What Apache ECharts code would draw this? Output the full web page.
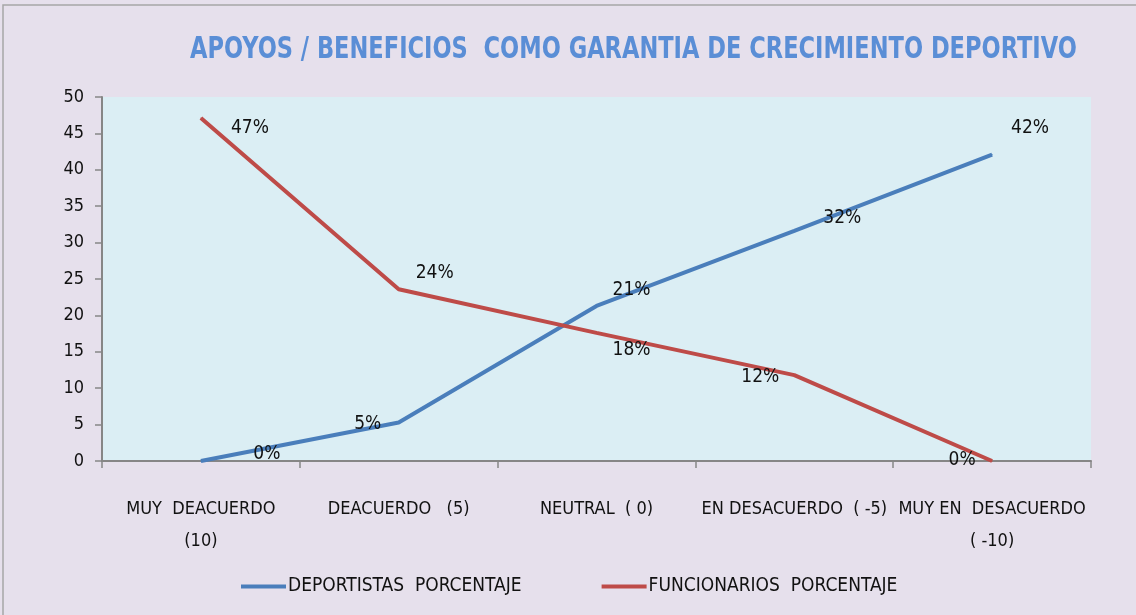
<!DOCTYPE html>
<html>
<head>
<meta charset="utf-8">
<script src="https://cdn.jsdelivr.net/npm/echarts@6/dist/echarts.min.js"></script>
<style>
  html, body { margin: 0; padding: 0; background: #e6e0ec; }
  #main { width: 1136px; height: 615px; }
</style>
</head>
<body>
<div id="main"></div>
<script>
// datos
var categorias = [
  "MUY  DEACUERDO\n(10)",
  "DEACUERDO   (5)",
  "NEUTRAL  ( 0)",
  "EN DESACUERDO  ( -5)",
  "MUY EN  DESACUERDO\n( -10)"
];
var deportistas = [0, 5.3, 21.3, 31.6, 42.1];
var funcionarios = [47.1, 23.6, 17.6, 11.8, 0];
var yTicks = [0, 50, 5]; // min, max, intervalo

// posiciones de etiquetas (estilo, no datos)
var offsetsAzul = [[66, -7], [-31, 2], [35, -16], [48, -13], [38, -26]];
var offsetsRojo = [[49, 10], [36, -16], [35, 17], [-34, 2], [-30, -1]];

var fuente = "'Liberation Sans Narrow', 'DejaVu Sans Condensed', sans-serif";

function conEtiquetas(valores, offsets) {
  return valores.map(function (v, i) {
    return {
      value: v,
      label: { offset: offsets[i] }
    };
  });
}

function pct(p) { return Math.round(p.value) + "%"; }

var myChart = echarts.init(document.getElementById("main"));
myChart.setOption({
  backgroundColor: "#e6e0ec",
  animation: false,
  textStyle: { fontFamily: fuente },
  legend: {
    bottom: 14,
    left: 236,
    itemWidth: 45,
    itemHeight: 4,
    itemGap: 80,
    icon: "rect",
    textStyle: { fontSize: 19, color: "#111", fontFamily: fuente, padding: [0, 0, 0, -3] },
    data: ["DEPORTISTAS  PORCENTAJE", "FUNCIONARIOS  PORCENTAJE"]
  },
  grid: {
    left: 102,
    right: 45,
    top: 97,
    bottom: 154,
    show: true,
    backgroundColor: "#dbeef4",
    borderWidth: 0
  },
  xAxis: {
    type: "category",
    boundaryGap: true,
    data: categorias,
    axisLine: { lineStyle: { color: "#868686", width: 2 } },
    axisTick: { show: true, length: 7, lineStyle: { color: "#868686", width: 1.5 } },
    axisLabel: {
      color: "#111",
      fontSize: 18,
      lineHeight: 32,
      margin: 32,
      interval: 0,
      fontFamily: fuente
    }
  },
  yAxis: {
    type: "value",
    min: yTicks[0],
    max: yTicks[1],
    interval: yTicks[2],
    axisLine: { show: true, lineStyle: { color: "#868686", width: 2 } },
    axisTick: { show: true, length: 7, lineStyle: { color: "#868686", width: 1.5 } },
    splitLine: { show: false },
    axisLabel: { color: "#111", fontSize: 18, margin: 18, fontFamily: fuente }
  },
  series: [
    {
      name: "DEPORTISTAS  PORCENTAJE",
      type: "line",
      symbol: "circle",
      symbolSize: 1,
      color: "#4a7ebb",
      lineStyle: { width: 4, color: "#4a7ebb" },
      label: {
        show: true,
        position: "inside",
        color: "#111",
        fontSize: 19,
        fontFamily: fuente,
        formatter: pct
      },
      data: conEtiquetas(deportistas, offsetsAzul)
    },
    {
      name: "FUNCIONARIOS  PORCENTAJE",
      type: "line",
      symbol: "circle",
      symbolSize: 1,
      color: "#be4b48",
      lineStyle: { width: 4, color: "#be4b48" },
      label: {
        show: true,
        position: "inside",
        color: "#111",
        fontSize: 19,
        fontFamily: fuente,
        formatter: pct
      },
      data: conEtiquetas(funcionarios, offsetsRojo)
    }
  ],
  graphic: [
    {
      type: "rect",
      shape: { x: 3, y: 5, width: 1140, height: 620 },
      style: { fill: "none", stroke: "#a6a6a6", lineWidth: 1.5 },
      silent: true
    },
    {
      type: "text",
      x: 190,
      y: 35,
      scaleX: 0.835,
      style: {
        text: "APOYOS / BENEFICIOS  COMO GARANTIA DE CRECIMIENTO DEPORTIVO",
        fill: "#5a8ed6",
        font: "bold 30px " + fuente
      },
      silent: true
    }
  ]
});
</script>
</body>
</html>
